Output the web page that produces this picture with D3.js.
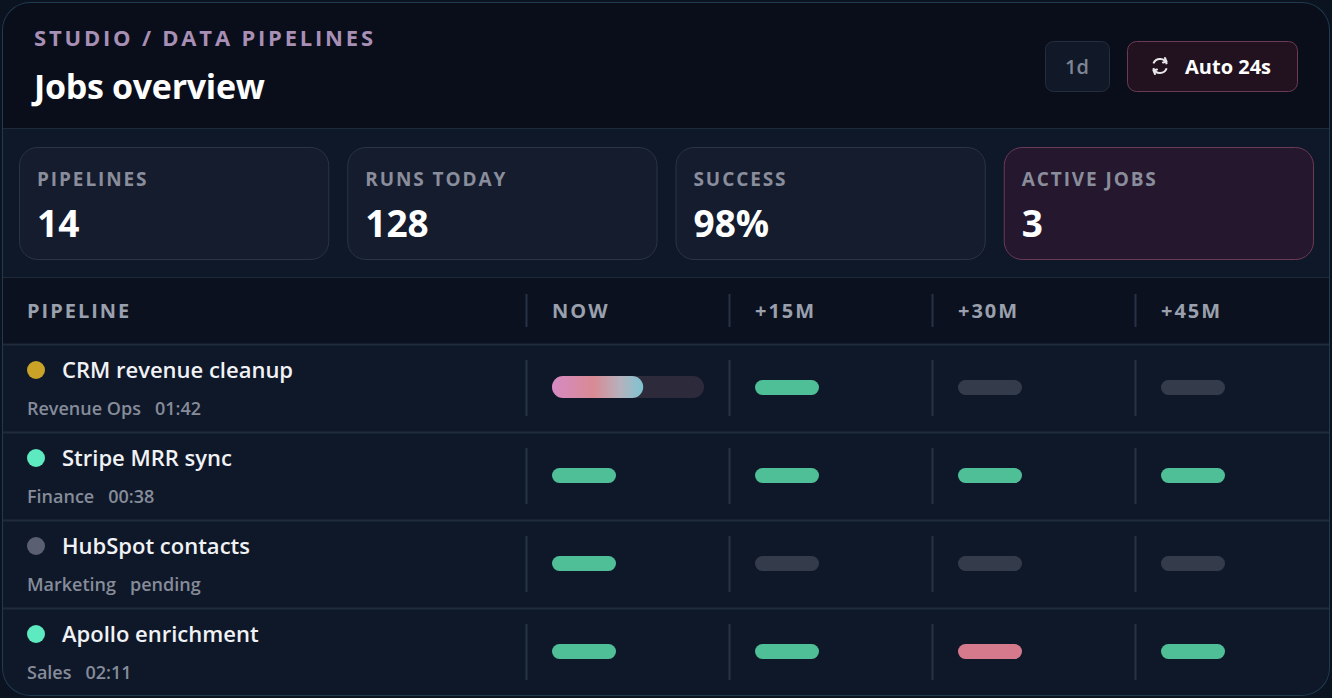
<!DOCTYPE html>
<html><head><meta charset="utf-8">
<script src="https://cdn.jsdelivr.net/npm/d3@7"></script>
<style>
html,body{margin:0;background:#0b1220;font-family:"Open Sans","Noto Sans",sans-serif;}
svg text{font-family:"Open Sans","Noto Sans",sans-serif;}
</style></head>
<body><div id="chart"></div>
<script>
// ===== DATA =====
const crumb = "STUDIO / DATA PIPELINES";
const title = "Jobs overview";
const kpiLabels = ["PIPELINES", "RUNS TODAY", "SUCCESS", "ACTIVE JOBS"];
const kpiValues = ["14", "128", "98%", "3"];
const slotLabels = ["NOW", "+15M", "+30M", "+45M"];
const pipelineNames = ["CRM revenue cleanup", "Stripe MRR sync", "HubSpot contacts", "Apollo enrichment"];
const pipelineTeams = ["Revenue Ops", "Finance", "Marketing", "Sales"];
const pipelineTimes = ["01:42", "00:38", "pending", "02:11"];
const pipelineStatus = ["running", "ok", "idle", "ok"];
const slotStates = [
    ["running", "ok", "idle", "idle"],
    ["ok", "ok", "ok", "ok"],
    ["ok", "idle", "idle", "idle"],
    ["ok", "ok", "fail", "ok"]
];
const runningProgress = 0.6;

// ===== SETUP =====
const W = 1332, H = 698;
const svg = d3.select("#chart").append("svg").attr("width", W).attr("height", H);
const defs = svg.append("defs");
defs.append("clipPath").attr("id", "card").append("rect")
    .attr("x", 2).attr("y", 2).attr("width", W - 4).attr("height", H - 4).attr("rx", 28);
const grad = defs.append("linearGradient").attr("id", "run");
[["0%", "#d68ac4"], ["45%", "#d98a94"], ["75%", "#b5b2bd"], ["100%", "#7ec4d2"]]
    .forEach(([o, c]) => grad.append("stop").attr("offset", o).attr("stop-color", c));

const g = svg.append("g").attr("clip-path", "url(#card)");
g.append("rect").attr("width", W).attr("height", H).attr("fill", "#0f1829");
g.append("rect").attr("width", W).attr("height", 128).attr("fill", "#0a0e1b");
g.append("line").attr("x1", 0).attr("x2", W).attr("y1", 128.5).attr("y2", 128.5).attr("stroke", "#1c2a3b");

// ===== HEADER =====
g.append("text").attr("x", 34).attr("y", 46).attr("fill", "#a88fb5")
    .style("font-size", "22px").style("font-weight", 700).style("letter-spacing", "2.8px").text(crumb);
g.append("text").attr("x", 34).attr("y", 99).attr("fill", "#fff")
    .style("font-size", "34px").style("font-weight", 700).style("letter-spacing", "-0.3px").text(title);

g.append("rect").attr("x", 1045.5).attr("y", 41.5).attr("width", 64).attr("height", 50).attr("rx", 8)
    .attr("fill", "#111827").attr("stroke", "#232e3f");
g.append("text").attr("x", 1077).attr("y", 74).attr("text-anchor", "middle").attr("fill", "#7d8596")
    .style("font-size", "20px").style("font-weight", 600).text("1d");
g.append("rect").attr("x", 1127.5).attr("y", 41.5).attr("width", 170).attr("height", 50).attr("rx", 9)
    .attr("fill", "#22121f").attr("stroke", "#6b3a54");
const ic = g.append("g").attr("transform", "translate(1160,66)").attr("fill", "none")
    .attr("stroke", "#e6e6ea").attr("stroke-width", 2).attr("stroke-linecap", "round");
ic.append("path").attr("d", d3.arc()({innerRadius: 7, outerRadius: 7, startAngle: -1.2, endAngle: 1.3}));
ic.append("path").attr("d", d3.arc()({innerRadius: 7, outerRadius: 7, startAngle: 1.9, endAngle: 4.4}));
ic.append("path").attr("d", "M5,-8 L6.5,-4.5 L3,-3.5");
ic.append("path").attr("d", "M-5,8 L-6.5,4.5 L-3,3.5");
g.append("text").attr("x", 1185).attr("y", 74).attr("fill", "#fff")
    .style("font-size", "20px").style("font-weight", 700).text("Auto 24s");

// ===== KPI CARDS =====
const kx = d3.scaleBand().domain(kpiLabels).range([19, 1332]);
const kpi = g.selectAll(".kpi").data(kpiLabels).enter().append("g")
    .attr("transform", d => `translate(${kx(d)},147)`);
kpi.append("rect").attr("x", 0.5).attr("y", 0.5).attr("width", kx.bandwidth() - 19).attr("height", 112).attr("rx", 18)
    .attr("fill", (d, i) => i === 3 ? "#25182e" : "#141c2e")
    .attr("stroke", (d, i) => i === 3 ? "#6b3a56" : "#2a3445");
kpi.append("text").attr("x", 18).attr("y", 39).attr("fill", "#8a8d9b")
    .style("font-size", "19px").style("font-weight", 700).style("letter-spacing", "1.9px").text(d => d);
kpi.append("text").attr("x", 18).attr("y", 90).attr("fill", "#fff")
    .style("font-size", "37px").style("font-weight", 700).text((d, i) => kpiValues[i]);

// ===== TABLE =====
g.append("line").attr("x1", 0).attr("x2", W).attr("y1", 277.5).attr("y2", 277.5).attr("stroke", "#1c2a3b");
g.append("rect").attr("y", 278).attr("width", W).attr("height", 66).attr("fill", "#0b111e");
const colX = d3.scaleBand().domain(slotLabels).range([526, 1338]);
const rowY = d3.scaleBand().domain(pipelineNames).range([344, 696]);

g.append("text").attr("x", 27).attr("y", 318).attr("fill", "#9aa0ad")
    .style("font-size", "20px").style("font-weight", 700).style("letter-spacing", "2px").text("PIPELINE");
g.selectAll(".hcol").data(slotLabels).enter().append("text")
    .attr("x", d => colX(d) + 26).attr("y", 318).attr("fill", "#9aa0ad")
    .style("font-size", "20px").style("font-weight", 700).style("letter-spacing", "2px").text(d => d);
g.selectAll(".hdiv").data(slotLabels).enter().append("line")
    .attr("x1", d => colX(d) + 0.5).attr("x2", d => colX(d) + 0.5).attr("y1", 294).attr("y2", 327)
    .attr("stroke", "#273244").attr("stroke-width", 2);

const statusColor = {running: "#c9a227", ok: "#5eeac0", idle: "#5a6072"};
const barColor = {ok: "#4fbf98", idle: "#343c4b", fail: "#d57a8c"};

const row = g.selectAll(".row").data(pipelineNames).enter().append("g")
    .attr("transform", d => `translate(0,${rowY(d)})`);
row.append("line").attr("x1", 0).attr("x2", W).attr("y1", 0.5).attr("y2", 0.5)
    .attr("stroke", "#1f2b3c").attr("stroke-width", 2);
row.append("circle").attr("cx", 36).attr("cy", 26).attr("r", 9)
    .attr("fill", (d, i) => statusColor[pipelineStatus[i]]);
row.append("text").attr("x", 62).attr("y", 34).attr("fill", "#f1f2f5")
    .style("font-size", "22px").style("font-weight", 600).text(d => d);
const sub = row.append("text").attr("x", 27).attr("y", 71).attr("fill", "#868c99")
    .style("font-size", "18px").style("font-weight", 600);
sub.append("tspan").text((d, i) => pipelineTeams[i]);
sub.append("tspan").attr("dx", 14).text((d, i) => pipelineTimes[i]);

row.each(function (d, i) {
    const r = d3.select(this);
    r.selectAll(".div").data(slotLabels).enter().append("line")
        .attr("x1", s => colX(s) + 0.5).attr("x2", s => colX(s) + 0.5).attr("y1", 16).attr("y2", 72)
        .attr("stroke", "#273244").attr("stroke-width", 2);
    slotStates[i].forEach((st, j) => {
        const x0 = colX(slotLabels[j]) + 26;
        if (st === "running") {
            r.append("rect").attr("x", x0).attr("y", 32).attr("width", 152).attr("height", 22).attr("rx", 11)
                .attr("fill", "#2d2a3c");
            r.append("rect").attr("x", x0).attr("y", 32).attr("width", 152 * runningProgress).attr("height", 22).attr("rx", 11)
                .attr("fill", "url(#run)");
        } else {
            r.append("rect").attr("x", x0).attr("y", 36).attr("width", 64).attr("height", 15).attr("rx", 7.5)
                .attr("fill", barColor[st]);
        }
    });
});

g.append("rect").attr("x", 2).attr("y", 2).attr("width", W - 4).attr("height", H - 4).attr("rx", 28)
    .attr("fill", "none").attr("stroke", "#1f3b4d").attr("stroke-width", 2);
</script></body></html>
